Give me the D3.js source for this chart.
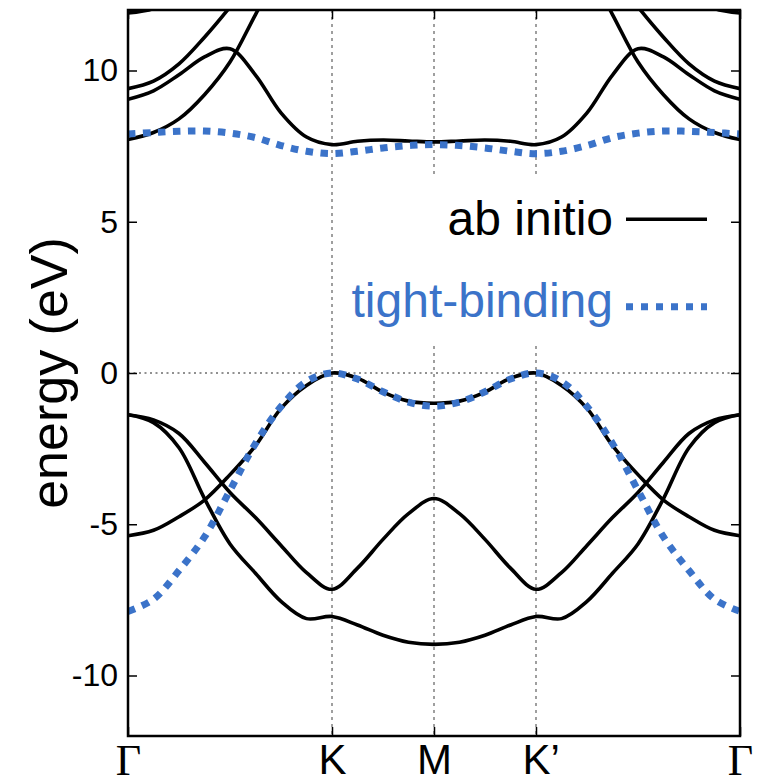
<!DOCTYPE html>
<html>
<head>
<meta charset="utf-8">
<script src="https://cdn.jsdelivr.net/npm/d3@7"></script>
<style>
  html, body { margin: 0; padding: 0; background: #fff; }
  svg { display: block; font-family: 'Liberation Sans', Arial, sans-serif; }
</style>
</head>
<body>
<div id="graph-container"></div>
<script>
const margin = {
    top: 10,
    bottom: 42,
    left: 128,
    right: 18,
}

const
    WIDTH = 758,
    HEIGHT = 778;

const width = WIDTH - margin.left - margin.right,
    height = HEIGHT - margin.top - margin.bottom;

const blue = '#3b73c9';

// path coordinate along the k path: Γ = 0, K = 2, M = 3, K' = 4, Γ = 6
const kPath = [0, 0.25, 0.5, 0.75, 1, 1.25, 1.5, 1.75, 2, 2.25, 2.5, 2.75, 3,
    3.25, 3.5, 3.75, 4, 4.25, 4.5, 4.75, 5, 5.25, 5.5, 5.75, 6];
const kTicks = [0, 2, 3, 4, 6];
const kLabels = ['Γ', 'K', 'M', 'K’', 'Γ'];
const energyTicks = [-10, -5, 0, 5, 10];

// ab initio bands (eV)
const abValence1 = [-5.38, -5.2, -4.75, -4.2, -3.36, -2.4, -1.17, -0.41, 0, -0.17, -0.63, -0.93, -1.0,
    -0.93, -0.63, -0.17, 0, -0.41, -1.17, -2.4, -3.36, -4.2, -4.75, -5.2, -5.38];
const abValence2 = [-1.38, -1.55, -2.0, -2.95, -3.95, -4.78, -5.7, -6.6, -7.15, -6.45, -5.5, -4.65, -4.15,
    -4.65, -5.5, -6.45, -7.15, -6.6, -5.7, -4.78, -3.95, -2.95, -2.0, -1.55, -1.38];
const abValence3 = [-1.38, -1.64, -2.47, -4.15, -5.65, -6.62, -7.55, -8.12, -8.05, -8.33, -8.67, -8.9, -8.97,
    -8.9, -8.67, -8.33, -8.05, -8.12, -7.55, -6.62, -5.65, -4.15, -2.47, -1.64, -1.38];
const abConduction1 = [7.72, 7.95, 8.4, 9.2, 10.28, 11.85, 13.4, 14.5, 15.1, 15.4, 15.5, 15.5, 15.5,
    15.5, 15.5, 15.4, 15.1, 14.5, 13.4, 11.85, 10.28, 9.2, 8.4, 7.95, 7.72];
const abConduction2 = [9.05, 9.33, 9.86, 10.45, 10.72, 9.85, 8.6, 7.8, 7.55, 7.66, 7.7, 7.67, 7.64,
    7.67, 7.7, 7.66, 7.55, 7.8, 8.6, 9.85, 10.72, 10.45, 9.86, 9.33, 9.05];
const abConduction3 = [9.4, 9.65, 10.22, 11.1, 12.1, 13.2, 14.2, 15, 15.5, 15.8, 16, 16, 16,
    16, 16, 15.8, 15.5, 15, 14.2, 13.2, 12.1, 11.1, 10.22, 9.65, 9.4];
const abConduction4 = [11.9, 12.05, 12.5, 13.2, 14, 15, 16, 16.5, 17, 17, 17, 17, 17,
    17, 17, 17, 17, 16.5, 16, 15, 14, 13.2, 12.5, 12.05, 11.9];

// tight-binding bands (eV)
const tbValence = [-7.88, -7.48, -6.53, -5.42, -3.88, -2.33, -1.11, -0.28, 0, -0.2, -0.62, -0.96, -1.1,
    -0.96, -0.62, -0.2, 0, -0.28, -1.11, -2.33, -3.88, -5.42, -6.53, -7.48, -7.88];
const tbConduction = [7.9, 7.95, 7.99, 8.0, 7.93, 7.78, 7.52, 7.33, 7.25, 7.33, 7.44, 7.52, 7.55,
    7.52, 7.44, 7.33, 7.25, 7.33, 7.52, 7.78, 7.93, 8.0, 7.99, 7.95, 7.9];

const abInitio = [abValence1, abValence2, abValence3, abConduction1, abConduction2, abConduction3, abConduction4];
const tightBinding = [tbValence, tbConduction];

const svg = d3.select('#graph-container').append('svg')
    .attr('width', WIDTH)
    .attr('height', HEIGHT);

const container = svg.append('g')
    .attr('transform', `translate(${margin.left} ${margin.top})`);

const xScale = d3.scaleLinear().domain([0, 6]).range([0, width]);
const yScale = d3.scaleLinear().domain([-12, 12]).range([height, 0]);

svg.append('defs').append('clipPath')
    .attr('id', 'plot-clip')
    .append('rect')
    .attr('width', width)
    .attr('height', height);

// dotted guides at K, M, K' and at zero energy
container.selectAll('line.kline')
    .data(kTicks.slice(1, 4))
    .join('line')
    .attr('class', 'kline')
    .attr('x1', (d) => xScale(d))
    .attr('x2', (d) => xScale(d))
    .attr('y1', 0)
    .attr('y2', height)
    .attr('stroke', '#777')
    .attr('stroke-width', 1.4)
    .attr('stroke-dasharray', '3,4');

container.append('line')
    .attr('x1', 0)
    .attr('x2', width)
    .attr('y1', yScale(0))
    .attr('y2', yScale(0))
    .attr('stroke', '#222')
    .attr('stroke-width', 1)
    .attr('stroke-dasharray', '2,3.5');

const line = d3.line()
    .x((d) => xScale(d[0]))
    .y((d) => yScale(d[1]))
    .curve(d3.curveCatmullRom.alpha(0.5));

const bands = container.append('g').attr('clip-path', 'url(#plot-clip)');

bands.selectAll('path.ab')
    .data(abInitio)
    .join('path')
    .attr('class', 'ab')
    .attr('d', (vals) => line(vals.map((e, i) => [kPath[i], e])))
    .attr('fill', 'none')
    .attr('stroke', '#000')
    .attr('stroke-width', 3.6);

bands.selectAll('path.tb')
    .data(tightBinding)
    .join('path')
    .attr('class', 'tb')
    .attr('d', (vals) => line(vals.map((e, i) => [kPath[i], e])))
    .attr('fill', 'none')
    .attr('stroke', blue)
    .attr('stroke-width', 7)
    .attr('stroke-dasharray', '7.5,7.5');

// legend
const legend = container.append('g');
legend.append('rect')
    .attr('x', 214)
    .attr('y', 167)
    .attr('width', 380)
    .attr('height', 168)
    .attr('fill', '#fff');

legend.append('text')
    .attr('x', 485)
    .attr('y', 225)
    .attr('text-anchor', 'end')
    .style('font-size', '48px')
    .attr('fill', '#000')
    .text('ab initio');
legend.append('line')
    .attr('x1', 498).attr('x2', 579)
    .attr('y1', 209.3).attr('y2', 209.3)
    .attr('stroke', '#000')
    .attr('stroke-width', 3.6);

legend.append('text')
    .attr('x', 485)
    .attr('y', 306.5)
    .attr('text-anchor', 'end')
    .style('font-size', '48px')
    .attr('fill', blue)
    .text('tight-binding');
legend.append('line')
    .attr('x1', 498).attr('x2', 579)
    .attr('y1', 296.7).attr('y2', 296.7)
    .attr('stroke', blue)
    .attr('stroke-width', 7)
    .attr('stroke-dasharray', '7,8');

// frame
container.append('rect')
    .attr('width', width)
    .attr('height', height)
    .attr('fill', 'none')
    .attr('stroke', '#000')
    .attr('stroke-width', 2.5);

// axes with inward ticks
const yAxis = d3.axisLeft(yScale)
    .tickValues(energyTicks)
    .tickSize(-9)
    .tickPadding(10)
    .tickFormat((d) => String(d));

const yAxisRight = d3.axisRight(yScale)
    .tickValues(energyTicks)
    .tickSize(-9)
    .tickFormat('');

const xAxis = d3.axisBottom(xScale)
    .tickValues(kTicks)
    .tickSize(-9)
    .tickPadding(8)
    .tickFormat((d, i) => kLabels[i]);

const xAxisTop = d3.axisTop(xScale)
    .tickValues(kTicks)
    .tickSize(-9)
    .tickFormat('');

const styleAxis = (g) => {
    g.select('.domain').remove();
    g.selectAll('.tick line').attr('stroke', '#000').attr('stroke-width', 1.5);
    g.selectAll('.tick text').attr('fill', '#000').attr('font-family', null);
};

container.append('g').call(yAxis).call(styleAxis)
    .selectAll('.tick text').style('font-size', '32px');

container.append('g').attr('transform', `translate(${width} 0)`).call(yAxisRight).call(styleAxis);
container.append('g').call(xAxisTop).call(styleAxis);

const xg = container.append('g')
    .attr('transform', `translate(0 ${height})`)
    .call(xAxis)
    .call(styleAxis);

xg.selectAll('.tick text')
    .style('font-size', (d, i) => kLabels[i] === 'Γ' ? '44px' : '42px')
    .style('font-family', (d, i) => kLabels[i] === 'Γ' ? "'Liberation Serif', 'Times New Roman', serif" : null)
    .attr('dx', (d, i) => kLabels[i] === 'K’' ? '0.11em' : null);

// y label
svg.append('text')
    .attr('transform', `translate(67 ${margin.top + height / 2}) rotate(-90)`)
    .attr('text-anchor', 'middle')
    .style('font-size', '52px')
    .text('energy (eV)');
</script>
</body>
</html>
